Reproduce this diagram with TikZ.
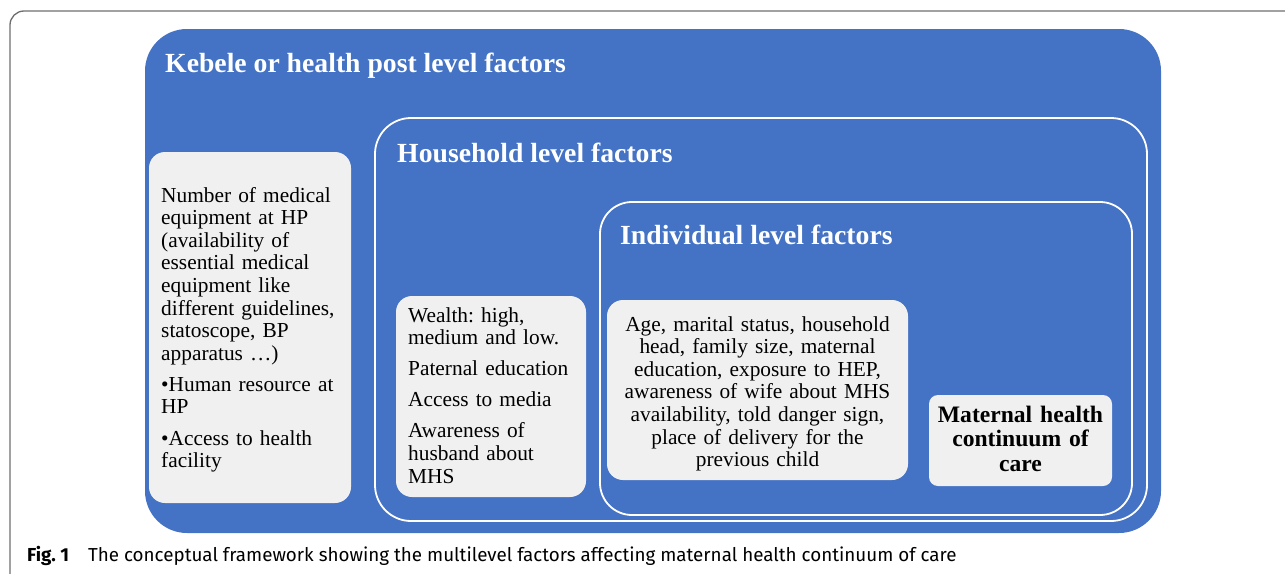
\documentclass[tikz,border=0pt]{standalone}
\usepackage{fontspec}
\setmainfont{Liberation Serif}
\newfontfamily\capfont{Fira Sans}
\definecolor{mblue}{HTML}{4472C4}
\definecolor{mgray}{HTML}{F0F0F0}
\definecolor{framegray}{HTML}{6E6E6E}
\frenchspacing
\begin{document}
\begin{tikzpicture}[x=1pt,y=-1pt,
  level/.style={draw=white,line width=1.8pt,rounded corners=#1},
  factbox/.style={fill=mgray,rounded corners=16pt,inner sep=0pt},
  title/.style={anchor=base west,text=white,font=\fontsize{27.7}{32}\selectfont\bfseries,inner sep=0pt},
  body/.style={font=\fontsize{21.35}{22.6}\selectfont,inner sep=0pt,anchor=base west,text width=220pt,align=left},
]
\useasboundingbox (0,0) rectangle (1285,573);
\begin{scope}
\clip (0,0) rectangle (1285,573);
\draw[framegray,line width=1.3pt,rounded corners=14pt] (10,11) rectangle (1300,590);
\end{scope}
% kebele level
\fill[mblue,rounded corners=42pt] (145,29) rectangle (1161,533);
\node[title] (tk) at (165,72) {Kebele or health post level factors};
% household level
\draw[level=36pt] (375,118) rectangle (1147,521);
\node[title] (th) at (397,162) {Household level factors};
% individual level
\draw[level=32pt] (600,202) rectangle (1132,515);
\node[title] (ti) at (620,244) {Individual level factors};
% boxes
\node[factbox,minimum width=202pt,minimum height=351pt] (kb) at (250,327.5) {};
\node[body] (kt) at (161,202)
 {Number of medical\\ equipment at HP\\ (availability of\\ essential medical\\ equipment like\\ different guidelines,\\ statoscope, BP\\ apparatus \ldots)\\[8.5pt]
 \textbullet Human resource at\\ HP\\[8.5pt]
 \textbullet Access to health\\ facility};
\node[factbox,minimum width=190pt,minimum height=201pt] (hb) at (491,396.5) {};
\node[body] (ht) at (408,322)
 {Wealth: high,\\ medium and low.\\[8.5pt]
 Paternal education\\[8.5pt]
 Access to media\\[8.5pt]
 Awareness of\\ husband about\\ MHS};
\node[factbox,minimum width=301pt,minimum height=180pt] (ib) at (757.5,390) {};
\node[body,align=center,anchor=base,text width=300pt] (it) at (757.5,331)
 {Age, marital status, household\\ head, family size, maternal\\ education, exposure to HEP,\\ awareness of wife about MHS\\ availability, told danger sign,\\ place of delivery for the\\ previous child};
\node[factbox,minimum width=183pt,minimum height=91pt,rounded corners=9pt] (mb) at (1020.5,440.5) {};
\node[font=\fontsize{23.6}{24.5}\selectfont\bfseries,align=center,text width=180pt,anchor=base,inner sep=0pt] (mt) at (1020.5,422)
 {Maternal health\\ continuum of\\ care};
% caption
\node[anchor=base west,inner sep=0pt,font=\capfont\fontsize{18.8}{22}\selectfont] (cap) at (27,561)
 {\textbf{Fig. 1}\hspace{19pt}The conceptual framework showing the multilevel factors affecting maternal health continuum of care};
\end{tikzpicture}
\end{document}
